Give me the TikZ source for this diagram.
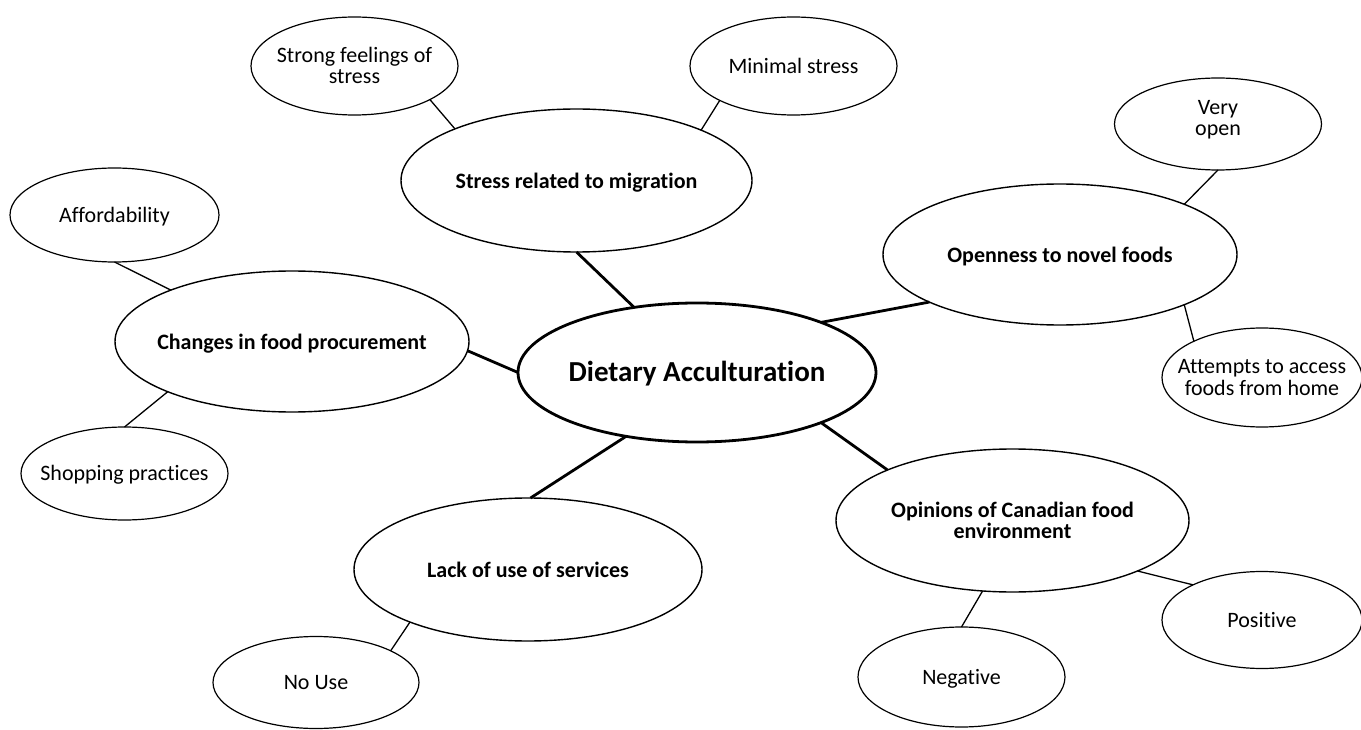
\documentclass[tikz,border=0pt]{standalone}
\usepackage{fontspec}
\setmainfont{Carlito}[Ligatures=NoCommon]
\usetikzlibrary{shapes.geometric}
\newcommand{\mytxt}[1]{\makebox[0pt]{\begin{tabular}{@{}c@{}}#1\end{tabular}}}
\begin{document}
\begin{tikzpicture}[x=1pt,y=-1pt,
  base/.style={ellipse,draw,inner sep=0pt,outer sep=0pt,text depth=0pt},
  leaf/.style={base,line width=1.2pt,font=\fontsize{22}{21}\selectfont},
  sub/.style={base,line width=1.4pt,font=\fontsize{22}{21}\selectfont\bfseries},
  hub/.style={base,line width=2.8pt,font=\fontsize{29}{30}\selectfont\bfseries},
  txt/.style={inner sep=0pt,yshift=-3pt},
  leafline/.style={line width=1.3pt},
  hubline/.style={line width=2.8pt}]
\fill[white] (0,0) rectangle (1361,730);
\useasboundingbox (0,0) rectangle (1361,730);

% hub
\node[hub,minimum width=358pt,minimum height=139pt] (C) at (697,372.5) {};
\node[txt,font=\fontsize{29}{30}\selectfont\bfseries] (Ct) at (C.center) {\mytxt{Dietary Acculturation}};

% subcategories
\node[sub,minimum width=351pt,minimum height=143pt] (S) at (576.5,180.5) {};
\node[sub,minimum width=354pt,minimum height=141pt] (O) at (1060,254.5) {};
\node[sub,minimum width=354pt,minimum height=141pt] (CH) at (292,341.5) {};
\node[sub,minimum width=348pt,minimum height=143pt] (L) at (528,569.5) {};
\node[sub,minimum width=353pt,minimum height=143pt] (OP) at (1012.5,520.5) {};
\begin{scope}[every node/.style={txt,font=\fontsize{22}{21}\selectfont\bfseries}]
\node (St) at (S.center) {\mytxt{Stress related to migration}};
\node (Ot) at (O.center) {\mytxt{Openness to novel foods}};
\node (CHt) at (CH.center) {\mytxt{Changes in food procurement}};
\node (Lt) at (L.center) {\mytxt{Lack of use of services}};
\node (OPt) at (OP.center) {\mytxt{Opinions of Canadian food\\environment}};
\end{scope}

% leaves
\node[leaf,minimum width=207pt,minimum height=98pt] (SF) at (354.5,66) {};
\node[leaf,minimum width=207pt,minimum height=98pt] (MS) at (793.5,66) {};
\node[leaf,minimum width=207pt,minimum height=92pt] (VO) at (1218,124) {};
\node[leaf,minimum width=200pt,minimum height=99pt] (AT) at (1262,377.5) {};
\node[leaf,minimum width=209pt,minimum height=94pt] (AF) at (114.5,215) {};
\node[leaf,minimum width=207pt,minimum height=93pt] (SP) at (124.5,473.5) {};
\node[leaf,minimum width=206pt,minimum height=92pt] (NU) at (316,682.5) {};
\node[leaf,minimum width=200pt,minimum height=97pt] (PO) at (1262,620) {};
\node[leaf,minimum width=207pt,minimum height=100pt] (NE) at (961.5,677) {};
\begin{scope}[every node/.style={txt,font=\fontsize{22}{21}\selectfont}]
\node (SFt) at (SF.center) {\mytxt{Strong feelings of\\stress}};
\node (MSt) at (MS.center) {\mytxt{Minimal stress}};
\node[yshift=6pt] (VOt) at (VO.center) {\mytxt{Very\\open}};
\node (ATt) at (AT.center) {\mytxt{Attempts to access\\foods from home}};
\node (AFt) at (AF.center) {\mytxt{Affordability}};
\node (SPt) at (SP.center) {\mytxt{Shopping practices}};
\node (NUt) at (NU.center) {\mytxt{No Use}};
\node (POt) at (PO.center) {\mytxt{Positive}};
\node (NEt) at (NE.center) {\mytxt{Negative}};
\end{scope}

% hub connectors
\draw[hubline] (C.134.3) -- (S.-90);
\draw[hubline] (C.22) -- (O.200.9);
\draw[hubline] (C.180) -- (CH.-3.5);
\draw[hubline] (C.-138) -- (L.88);
\draw[hubline] (C.-22.6) -- (OP.158.1);

% leaf connectors
\draw[leafline] (S.157.7) -- (SF.-24.5);
\draw[leafline] (S.22.3) -- (MS.205.1);
\draw[leafline] (O.22.4) -- (VO.-90);
\draw[leafline] (O.-22.4) -- (AT.152.1);
\draw[leafline] (CH.157.6) -- (AF.-90);
\draw[leafline] (CH.202.2) -- (SP.90);
\draw[leafline] (L.-156.7) -- (NU.23.7);
\draw[leafline] (OP.-22.2) -- (PO.153.8);
\draw[leafline] (OP.-113.1) -- (NE.90);
\end{tikzpicture}
\end{document}
